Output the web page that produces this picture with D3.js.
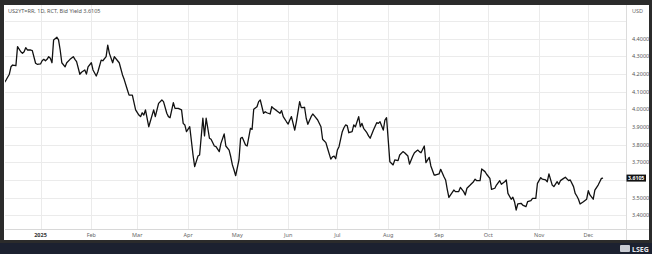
<!DOCTYPE html>
<html>
<head>
<meta charset="utf-8">
<script src="https://cdn.jsdelivr.net/npm/d3@7"></script>
<style>
  html, body { margin: 0; padding: 0; background: #2b2b2b; }
  svg { display: block; font-family: "Noto Sans", Roboto, sans-serif; }
</style>
</head>
<body>
<script>
// US 2Y yield, daily closes
var dates = [
  "2024-12-10","2024-12-11","2024-12-13","2024-12-14","2024-12-15","2024-12-17","2024-12-18","2024-12-20","2024-12-21","2024-12-22",
  "2024-12-23","2024-12-24","2024-12-26","2024-12-27","2024-12-29","2024-12-30","2025-01-01","2025-01-02","2025-01-03","2025-01-04",
  "2025-01-05","2025-01-06","2025-01-07","2025-01-08","2025-01-09","2025-01-11","2025-01-12","2025-01-13","2025-01-14","2025-01-16",
  "2025-01-17","2025-01-19","2025-01-21","2025-01-22","2025-01-23","2025-01-25","2025-01-26","2025-01-28","2025-01-29","2025-01-30",
  "2025-02-01","2025-02-02","2025-02-04","2025-02-05","2025-02-07","2025-02-08","2025-02-10","2025-02-11","2025-02-12","2025-02-14",
  "2025-02-15","2025-02-17","2025-02-18","2025-02-20","2025-02-21","2025-02-23","2025-02-24","2025-02-26","2025-02-28","2025-03-02",
  "2025-03-03","2025-03-04","2025-03-05","2025-03-06","2025-03-08","2025-03-11","2025-03-12","2025-03-14","2025-03-16","2025-03-17",
  "2025-03-19","2025-03-20","2025-03-21","2025-03-23","2025-03-24","2025-03-26","2025-03-28","2025-03-29","2025-03-30","2025-03-31",
  "2025-04-02","2025-04-04","2025-04-05","2025-04-07","2025-04-08","2025-04-10","2025-04-11","2025-04-12","2025-04-14","2025-04-15",
  "2025-04-17","2025-04-18","2025-04-20","2025-04-21","2025-04-23","2025-04-24","2025-04-26","2025-04-27","2025-04-28","2025-04-29",
  "2025-04-30","2025-05-02","2025-05-03","2025-05-04","2025-05-06","2025-05-07","2025-05-09","2025-05-10","2025-05-11","2025-05-13",
  "2025-05-14","2025-05-15","2025-05-17","2025-05-18","2025-05-19","2025-05-21","2025-05-22","2025-05-23","2025-05-25","2025-05-27",
  "2025-05-28","2025-05-29","2025-05-31","2025-06-01","2025-06-02","2025-06-03","2025-06-05","2025-06-06","2025-06-08","2025-06-09",
  "2025-06-11","2025-06-12","2025-06-13","2025-06-15","2025-06-16","2025-06-17","2025-06-19","2025-06-21","2025-06-22","2025-06-24",
  "2025-06-25","2025-06-27","2025-06-28","2025-06-29","2025-06-30","2025-07-01","2025-07-02","2025-07-04","2025-07-05","2025-07-06",
  "2025-07-07","2025-07-08","2025-07-10","2025-07-11","2025-07-12","2025-07-14","2025-07-15","2025-07-16","2025-07-17","2025-07-19",
  "2025-07-20","2025-07-21","2025-07-23","2025-07-25","2025-07-26","2025-07-27","2025-07-29","2025-07-30","2025-07-31","2025-08-02",
  "2025-08-04","2025-08-05","2025-08-07","2025-08-08","2025-08-10","2025-08-11","2025-08-13","2025-08-14","2025-08-16","2025-08-17",
  "2025-08-19","2025-08-20","2025-08-21","2025-08-23","2025-08-24","2025-08-26","2025-08-27","2025-08-29","2025-08-30","2025-09-01",
  "2025-09-02","2025-09-04","2025-09-05","2025-09-06","2025-09-07","2025-09-10","2025-09-11","2025-09-13","2025-09-14","2025-09-16",
  "2025-09-17","2025-09-18","2025-09-20","2025-09-22","2025-09-23","2025-09-24","2025-09-26","2025-09-27","2025-09-29","2025-09-30",
  "2025-10-02","2025-10-03","2025-10-05","2025-10-06","2025-10-08","2025-10-09","2025-10-11","2025-10-12","2025-10-13","2025-10-15",
  "2025-10-16","2025-10-17","2025-10-18","2025-10-19","2025-10-21","2025-10-22","2025-10-24","2025-10-25","2025-10-27","2025-10-28",
  "2025-10-30","2025-10-31","2025-11-02","2025-11-03","2025-11-05","2025-11-06","2025-11-07","2025-11-09","2025-11-10","2025-11-12",
  "2025-11-13","2025-11-14","2025-11-16","2025-11-17","2025-11-19","2025-11-20","2025-11-22","2025-11-23","2025-11-24","2025-11-25",
  "2025-11-26","2025-11-28","2025-11-30","2025-12-01","2025-12-02","2025-12-04","2025-12-05","2025-12-07","2025-12-08","2025-12-09",
  "2025-12-10"
];
var yields = [
  4.152,4.165,4.198,4.240,4.250,4.246,4.354,4.325,4.316,4.325,
  4.348,4.335,4.335,4.331,4.260,4.254,4.256,4.274,4.282,4.274,
  4.282,4.297,4.288,4.263,4.392,4.407,4.392,4.335,4.263,4.240,
  4.263,4.282,4.297,4.282,4.269,4.198,4.209,4.222,4.199,4.240,
  4.263,4.222,4.188,4.212,4.278,4.274,4.297,4.363,4.316,4.263,
  4.297,4.274,4.263,4.194,4.169,4.109,4.080,4.080,3.996,3.967,
  3.958,3.980,3.967,3.996,3.901,3.996,3.958,4.033,4.052,4.043,
  3.977,3.958,3.952,4.037,4.005,4.005,3.996,3.920,3.911,3.873,
  3.901,3.741,3.675,3.735,3.741,3.949,3.849,3.949,3.836,3.830,
  3.792,3.788,3.760,3.807,3.860,3.792,3.769,3.731,3.685,3.656,
  3.624,3.713,3.836,3.841,3.798,3.792,3.892,3.886,4.000,4.014,
  4.043,4.052,3.977,3.986,3.980,3.973,4.014,4.005,3.992,3.977,
  3.992,3.958,3.929,3.916,3.939,3.958,3.882,3.929,4.043,4.009,
  4.011,3.949,3.915,3.958,3.973,3.962,3.939,3.901,3.830,3.811,
  3.779,3.718,3.731,3.735,3.720,3.769,3.788,3.873,3.895,3.911,
  3.907,3.867,3.873,3.911,3.901,3.958,3.901,3.920,3.892,3.867,
  3.849,3.836,3.882,3.924,3.920,3.929,3.882,3.939,3.952,3.703,
  3.685,3.713,3.709,3.741,3.760,3.754,3.735,3.690,3.735,3.754,
  3.769,3.760,3.754,3.792,3.698,3.728,3.679,3.628,3.628,3.634,
  3.660,3.618,3.600,3.547,3.502,3.543,3.534,3.534,3.558,3.534,
  3.515,3.553,3.571,3.590,3.604,3.596,3.596,3.662,3.647,3.632,
  3.609,3.547,3.553,3.571,3.596,3.575,3.590,3.600,3.524,3.491,
  3.502,3.477,3.430,3.464,3.468,3.458,3.449,3.477,3.483,3.496,
  3.496,3.581,3.613,3.604,3.600,3.590,3.634,3.571,3.562,3.590,
  3.575,3.596,3.609,3.615,3.596,3.600,3.562,3.524,3.509,3.491,
  3.464,3.477,3.491,3.539,3.515,3.491,3.543,3.571,3.590,3.609,
  3.6105
];
var yTicks = [3.4, 3.5, 3.6, 3.7, 3.8, 3.9, 4.0, 4.1, 4.2, 4.3, 4.4];
var yGrid = [3.4, 3.5, 3.6, 3.7, 3.8, 3.9, 4.0, 4.1, 4.2, 4.3, 4.4, 4.5];
var monthLabels = ["2025","Feb","Mar","Apr","May","Jun","Jul","Aug","Sep","Oct","Nov","Dec"];
var lastValue = 3.6105;
var title = "US2YT=RR, 1D, RCT, Bid Yield  3.6105";

var W = 652, H = 254;
var panel = {left: 4, top: 5, right: 649, bottom: 240};
var plot = {left: 5, top: 5, right: 626, bottom: 229};

var parse = d3.timeParse("%Y-%m-%d");
var data = dates.map(function(d, i){ return {date: parse(d), value: yields[i]}; });
var monthStarts = d3.timeMonths(new Date(2025, 0, 1), new Date(2025, 11, 2));

var x = d3.scaleTime()
    .domain([new Date(2025, 0, 1), new Date(2025, 11, 1)])
    .range([40.5, 588.3]);
var y = d3.scaleLinear()
    .domain([3.4, 4.4])
    .range([215.3, 38.5]);

var svg = d3.select("body").append("svg")
    .attr("width", W)
    .attr("height", H);

// frame + bottom strip
svg.append("rect").attr("width", W).attr("height", H).attr("fill", "#2b2b2b");
svg.append("rect").attr("x", 0).attr("y", 243).attr("width", W).attr("height", 11).attr("fill", "#1c2130");
svg.append("rect")
    .attr("x", panel.left).attr("y", panel.top)
    .attr("width", panel.right - panel.left).attr("height", panel.bottom - panel.top)
    .attr("fill", "#ffffff");

svg.append("clipPath").attr("id", "clip")
  .append("rect")
    .attr("x", plot.left).attr("y", plot.top)
    .attr("width", plot.right - plot.left).attr("height", plot.bottom - plot.top);

// grid
svg.append("g").selectAll("line")
  .data(yGrid)
  .enter().append("line")
    .attr("x1", plot.left).attr("x2", plot.right)
    .attr("y1", function(d){ return Math.round(y(d)) + 0.5; })
    .attr("y2", function(d){ return Math.round(y(d)) + 0.5; })
    .attr("stroke", "#ebebeb").attr("stroke-width", 1);

svg.append("g").selectAll("line")
  .data(monthStarts)
  .enter().append("line")
    .attr("x1", function(d){ return Math.round(x(d)) + 0.5; })
    .attr("x2", function(d){ return Math.round(x(d)) + 0.5; })
    .attr("y1", plot.top).attr("y2", plot.bottom)
    .attr("stroke", "#ebebeb").attr("stroke-width", 1);

// axis separators
svg.append("line")
    .attr("x1", plot.left).attr("x2", panel.right)
    .attr("y1", plot.bottom + 0.5).attr("y2", plot.bottom + 0.5)
    .attr("stroke", "#d8d8d8");
svg.append("line")
    .attr("x1", plot.right + 0.5).attr("x2", plot.right + 0.5)
    .attr("y1", panel.top).attr("y2", panel.bottom)
    .attr("stroke", "#dcdcdc");

// the line
var line = d3.line()
    .x(function(d){ return x(d.date); })
    .y(function(d){ return y(d.value); });

svg.append("path")
    .datum(data)
    .attr("clip-path", "url(#clip)")
    .attr("d", line)
    .attr("fill", "none")
    .attr("stroke", "#111")
    .attr("stroke-width", 1.3)
    .attr("stroke-linejoin", "round");

// right axis labels (the one under the last-value tag is hidden)
var fmt = d3.format(".4f");
svg.append("g").selectAll("text")
  .data(yTicks.filter(function(d){ return Math.abs(y(d) - y(lastValue)) > 6; }))
  .enter().append("text")
    .attr("x", 632)
    .attr("y", function(d){ return y(d) + 2; })
    .attr("font-size", 5.5)
    .attr("fill", "#555")
    .text(function(d){ return fmt(d); });

svg.append("text")
    .attr("x", 632).attr("y", 13)
    .attr("font-size", 5.5).attr("fill", "#666")
    .text("USD");

// last value tag
svg.append("rect")
    .attr("x", 626.5).attr("y", y(lastValue) - 3.5)
    .attr("width", 19.5).attr("height", 7)
    .attr("fill", "#111");
svg.append("text")
    .attr("x", 636.2).attr("y", y(lastValue) + 2)
    .attr("text-anchor", "middle")
    .attr("font-size", 5.2).attr("font-weight", "bold")
    .attr("fill", "#fff")
    .text(fmt(lastValue));

// month labels
svg.append("g").selectAll("text")
  .data(monthStarts)
  .enter().append("text")
    .attr("x", function(d){ return x(d); })
    .attr("y", 237)
    .attr("text-anchor", "middle")
    .attr("font-size", 5.5)
    .attr("font-weight", function(d, i){ return i === 0 ? "bold" : "normal"; })
    .attr("fill", function(d, i){ return i === 0 ? "#333" : "#666"; })
    .text(function(d, i){ return monthLabels[i]; });

// title
svg.append("text")
    .attr("x", 8).attr("y", 13)
    .attr("font-size", 5.5).attr("fill", "#555")
    .text(title);

// LSEG mark
svg.append("rect")
    .attr("x", 620).attr("y", 245).attr("width", 10).attr("height", 7)
    .attr("rx", 1).attr("fill", "#c9ccd3");
svg.append("text")
    .attr("x", 632).attr("y", 251.5)
    .attr("font-size", 7).attr("font-weight", "bold")
    .attr("fill", "#e6e8ee")
    .text("LSEG");
</script>
</body>
</html>
